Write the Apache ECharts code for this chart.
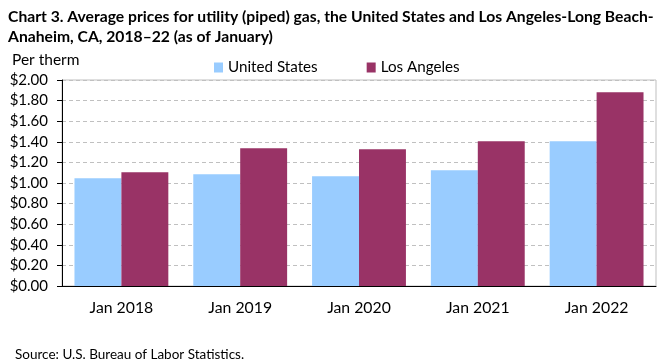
<!DOCTYPE html>
<html><head><meta charset="utf-8">
<script src="https://cdn.jsdelivr.net/npm/echarts@6/dist/echarts.min.js"></script>
<style>html,body{margin:0;padding:0;background:#fff}#c{width:661px;height:361px}</style>
</head><body><div id="c"></div>
<script>
const categories = ['Jan 2018','Jan 2019','Jan 2020','Jan 2021','Jan 2022'];
const unitedStates = [1.045, 1.084, 1.065, 1.123, 1.405];
const losAngeles = [1.104, 1.337, 1.327, 1.405, 1.881];
const seriesNames = ['United States','Los Angeles'];
const FONT = 'Lato, "Liberation Sans", sans-serif';
const chart = echarts.init(document.getElementById('c'));
chart.setOption({
  animation: false,
  textStyle: {fontFamily: FONT},
  title: [
    {text: 'Chart 3. Average prices for utility (piped) gas, the United States and Los Angeles-Long Beach-\nAnaheim, CA, 2018\u201322 (as of January)',
     left: 3, top: 2, textStyle: {fontFamily: FONT, fontSize: 15.7, fontWeight: 'bold', color: '#000', lineHeight: 20}},
    {text: 'Per therm', left: 7, top: 47, textStyle: {fontFamily: FONT, fontSize: 15.5, fontWeight: 'normal', color: '#000'}},
    {text: 'Source: U.S. Bureau of Labor Statistics.', left: 10, top: 343, textStyle: {fontFamily: FONT, fontSize: 13.5, fontWeight: 'normal', color: '#000'}}
  ],
  legend: {
    data: seriesNames, left: 209, top: 55, itemWidth: 9, itemHeight: 10, itemGap: 49,
    icon: 'rect', textStyle: {fontFamily: FONT, fontSize: 15.2, color: '#000'}
  },
  grid: {left: 62, right: 5, top: 80, bottom: 75, show: true, borderColor: '#bfbfbf', borderWidth: 1},
  xAxis: {
    type: 'category', data: categories,
    axisLine: {lineStyle: {color: '#000'}},
    axisTick: {show: false},
    axisLabel: {fontFamily: FONT, fontSize: 15.8, color: '#000', margin: 14}
  },
  yAxis: {
    type: 'value', min: 0, max: 2, interval: 0.2,
    axisLine: {show: true, lineStyle: {color: '#000'}},
    axisTick: {show: true, length: 5, lineStyle: {color: '#000'}},
    axisLabel: {fontFamily: FONT, fontSize: 15, color: '#000', margin: 14, formatter: v => '$' + v.toFixed(2)},
    splitLine: {lineStyle: {color: '#c0c0c0', type: [4, 3]}}
  },
  series: [
    {name: seriesNames[0], type: 'bar', data: unitedStates, barGap: '0%', barCategoryGap: '21%', itemStyle: {color: '#99ccff'}},
    {name: seriesNames[1], type: 'bar', data: losAngeles, barGap: '0%', barCategoryGap: '21%', itemStyle: {color: '#993366'}}
  ]
});
</script></body></html>
